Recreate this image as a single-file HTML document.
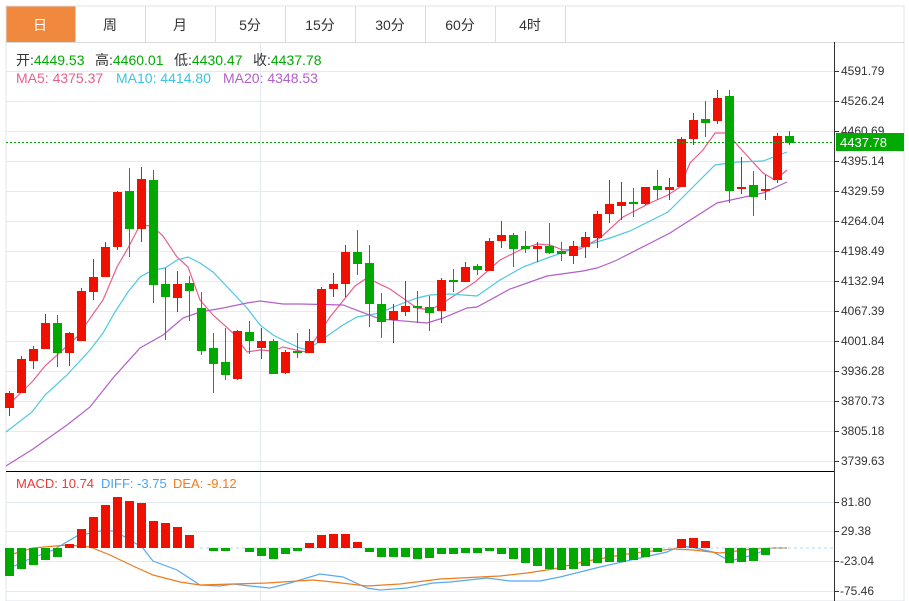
<!DOCTYPE html>
<html><head><meta charset="utf-8"><style>
body{margin:0;background:#fff;width:909px;height:601px;overflow:hidden;font-family:"Liberation Sans","Noto Sans CJK SC",sans-serif}
svg{position:absolute;left:0;top:0}
text{font-family:"Liberation Sans","Noto Sans CJK SC",sans-serif}
</style></head><body>
<svg id="s" width="909" height="601" xmlns="http://www.w3.org/2000/svg">
<rect x="6" y="6" width="898" height="595" fill="#fff" stroke="#dfe3e8"/>
<g id="grid" stroke="#e3eaf0" stroke-width="1"></g>
<rect x="6.5" y="6.5" width="69" height="36" fill="#f0883e"/>
<g stroke="#dcdcdc"><line x1="6" y1="42.5" x2="904" y2="42.5"/>
<line x1="145.5" y1="6" x2="145.5" y2="42"/><line x1="215.5" y1="6" x2="215.5" y2="42"/><line x1="285.5" y1="6" x2="285.5" y2="42"/><line x1="355.5" y1="6" x2="355.5" y2="42"/><line x1="425.5" y1="6" x2="425.5" y2="42"/><line x1="495.5" y1="6" x2="495.5" y2="42"/><line x1="565.5" y1="6" x2="565.5" y2="42"/></g>
<g font-size="14" text-anchor="middle" fill="#333"><text x="40" y="30" fill="#fff">日</text><text x="110" y="30">周</text><text x="180" y="30">月</text><text x="250" y="30">5分</text><text x="320" y="30">15分</text><text x="390" y="30">30分</text><text x="460" y="30">60分</text><text x="530" y="30">4时</text></g>
<g id="ma"></g><g id="c"></g>
<line x1="6" y1="142.5" x2="834" y2="142.5" stroke="#0a0" stroke-dasharray="2,2"/>
<line x1="6" y1="471.5" x2="834" y2="471.5" stroke="#000"/>
<line x1="834.5" y1="42" x2="834.5" y2="601" stroke="#333"/>
<g font-size="12" fill="#333"><text x="841" y="75">4591.79</text><text x="841" y="105">4526.24</text><text x="841" y="135">4460.69</text><text x="841" y="165">4395.14</text><text x="841" y="195">4329.59</text><text x="841" y="225">4264.04</text><text x="841" y="255">4198.49</text><text x="841" y="285">4132.94</text><text x="841" y="315">4067.39</text><text x="841" y="345">4001.84</text><text x="841" y="375">3936.28</text><text x="841" y="405">3870.73</text><text x="841" y="435">3805.18</text><text x="841" y="465">3739.63</text>
<text x="841" y="506">81.80</text><text x="841" y="535">29.38</text><text x="840" y="565">-23.04</text><text x="840" y="595">-75.46</text></g>
<rect x="836" y="133" width="68" height="18" fill="#0a0"/><text x="840" y="147" font-size="13" fill="#fff">4437.78</text>
<g font-size="14">
<text x="16" y="65" fill="#333">开:<tspan fill="#0a0">4449.53</tspan></text>
<text x="95" y="65" fill="#333">高:<tspan fill="#0a0">4460.01</tspan></text>
<text x="174" y="65" fill="#333">低:<tspan fill="#0a0">4430.47</tspan></text>
<text x="253" y="65" fill="#333">收:<tspan fill="#0a0">4437.78</tspan></text>
<text x="16" y="83" fill="#e8608a">MA5: 4375.37</text><text x="116" y="83" fill="#3cc4e0">MA10: 4414.80</text><text x="223" y="83" fill="#b35fc8">MA20: 4348.53</text></g>
<g font-size="13"><text x="16" y="488" fill="#e83a3a">MACD: 10.74</text><text x="101" y="488" fill="#4aa3ef">DIFF: -3.75</text><text x="173" y="488" fill="#f07b1d">DEA: -9.12</text></g>
</svg>
<script>
var NS="http://www.w3.org/2000/svg";
function el(p,t,a){var e=document.createElementNS(NS,t);for(var k in a)e.setAttribute(k,a[k]);document.getElementById(p).appendChild(e);return e;}
[71,101,131,161,191,221,251,281,311,341,371,401,431,461,502,531,561,591].forEach(function(y){el("grid","line",{x1:6,x2:834,y1:y+.5,y2:y+.5});});
el("grid","line",{x1:260.5,x2:260.5,y1:42,y2:601});
for(var y of [71,101,131,161,191,221,251,281,311,341,371,401,431,461,502,531,561,591])el("grid","line",{x1:834,x2:839,y1:y+.5,y2:y+.5,stroke:"#333"});
var C=[[1,393,408,391,416],[1,359,393,356,393],[1,349,361,346,369],[1,323,349,314,349],[0,323,353,315,367],[1,333,353,332,366],[1,291,341,288,341],[1,277,292,259,300],[1,247,277,242,277],[1,192,247,191,250],[0,191,229,168,257],[1,179,229,167,242],[0,180,285,170,303],[0,284,297,268,340],[1,284,298,271,312],[0,283,291,276,321],[0,308,351,292,355],[0,348,364,333,393],[0,362,375,328,380],[1,331,379,330,380],[0,332,341,321,354],[1,341,348,328,359],[0,341,374,339,374],[1,352,373,350,374],[0,351,353,333,358],[1,341,353,329,353],[1,289,343,287,343],[1,284,289,273,297],[1,252,284,245,297],[0,252,264,230,275],[0,263,304,245,327],[0,304,322,293,338],[1,311,320,304,343],[1,306,312,281,316],[0,306,308,291,323],[0,307,313,296,331],[1,280,311,278,323],[0,280,282,269,292],[1,267,282,262,282],[0,266,270,264,275],[1,241,271,238,271],[1,235,241,221,248],[0,235,249,233,267],[0,246,249,231,253],[1,246,249,242,262],[0,246,253,223,254],[0,251,254,242,261],[1,246,256,241,264],[1,237,247,232,258],[1,214,238,211,248],[1,204,214,180,223],[1,202,206,182,220],[0,202,204,188,217],[1,187,204,187,205],[0,186,190,170,200],[1,187,190,178,200],[1,139,187,137,187],[1,120,139,113,145],[0,119,123,101,137],[1,98,121,90,124],[0,96,191,90,203],[1,187,189,157,194],[0,185,197,171,216],[1,189,191,175,200],[1,136,180,133,183],[0,136,143,131,145]];
C.forEach(function(d,i){var x=9+12*i,col=d[0]?"#f01000":"#00a800";
el("c","line",{x1:x+.5,x2:x+.5,y1:d[3],y2:d[4],stroke:col});
el("c","rect",{x:x-4,y:d[1],width:9,height:Math.max(1.5,d[2]-d[1]),fill:col});});
var H=[576,569,565,560,557,544,529,517,505,497,501,503,521,523,527,535,548,551,551,548,552,556,559,554,551,543,535,534,534,542,552,557,557,557,559,558,554,554,553,553,551,554,559,563,566,569,570,569,566,563,562,562,560,557,552,548,539,538,541,548,563,562,561,555,548,548];
el("c","line",{x1:200,x2:834,y1:548,y2:548,stroke:"#a8d8f0","stroke-dasharray":"3,3"});
H.forEach(function(v,i){var x=9+12*i;if(Math.abs(v-548)<1)return;var r=v<548;
el("c","rect",{x:x-4,y:Math.min(v,548),width:9,height:Math.abs(v-548),fill:r?"#f01000":"#00a800"});});
function pl(pts,c){el("ma","polyline",{points:pts,fill:"none",stroke:c,"stroke-width":1.2});}
pl("6,407 32,382 45,366 77,337 103,300 117,267 128,248 140,225 152,226 163,236 177,257 188,267 200,300 213,315 233,333 247,352 260,350 273,351 283,347 300,351 307,352 330,317 355,286 367,278 390,289 417,308 430,310 443,303 475,282 500,260 520,250 537,244 550,245 563,250 580,249 600,238 623,217 650,203 668,195 680,187 690,163 703,150 715,133 727,133 740,148 763,173 775,180 787,170","#e8608a");
pl("6,432 32,412 45,395 67,375 90,350 103,333 115,312 128,292 140,277 153,270 165,268 177,260 188,257 200,263 213,272 233,293 247,308 260,325 273,335 287,342 300,348 307,350 343,325 357,317 380,313 393,307 417,298 430,295 450,294 477,296 500,280 523,267 550,257 570,250 597,242 610,238 630,231 668,212 687,193 715,165 737,162 763,161 787,152","#4fc8e0");
pl("6,466 33,449 67,425 90,407 113,378 140,348 163,335 183,318 200,312 223,308 247,303 260,301 283,304 300,304 343,305 380,319 427,323 443,318 467,308 477,307 510,289 547,276 583,271 597,268 610,263 617,260 670,233 717,203 763,193 787,182","#b35fc8");
pl("6,570 27,560 53,550 77,536 100,531 115,531 133,542 142,547 153,561 177,570 200,585 220,586 233,584 250,586 270,588 290,583 320,574 343,577 367,588 380,590 407,588 433,583 450,582 487,578 510,581 540,581 560,577 600,567 640,558 667,552 680,546 690,547 713,552 730,561 753,555 770,548 787,548","#5aa9ef");
pl("6,556 33,548 67,545 90,547 110,555 133,566 153,575 180,582 200,585 233,584 267,583 313,580 333,582 367,586 400,584 440,579 500,576 527,573 553,569 587,561 633,553 673,549 693,550 720,553 753,549 773,548 787,548","#f07b1d");
</script>
</body></html>
